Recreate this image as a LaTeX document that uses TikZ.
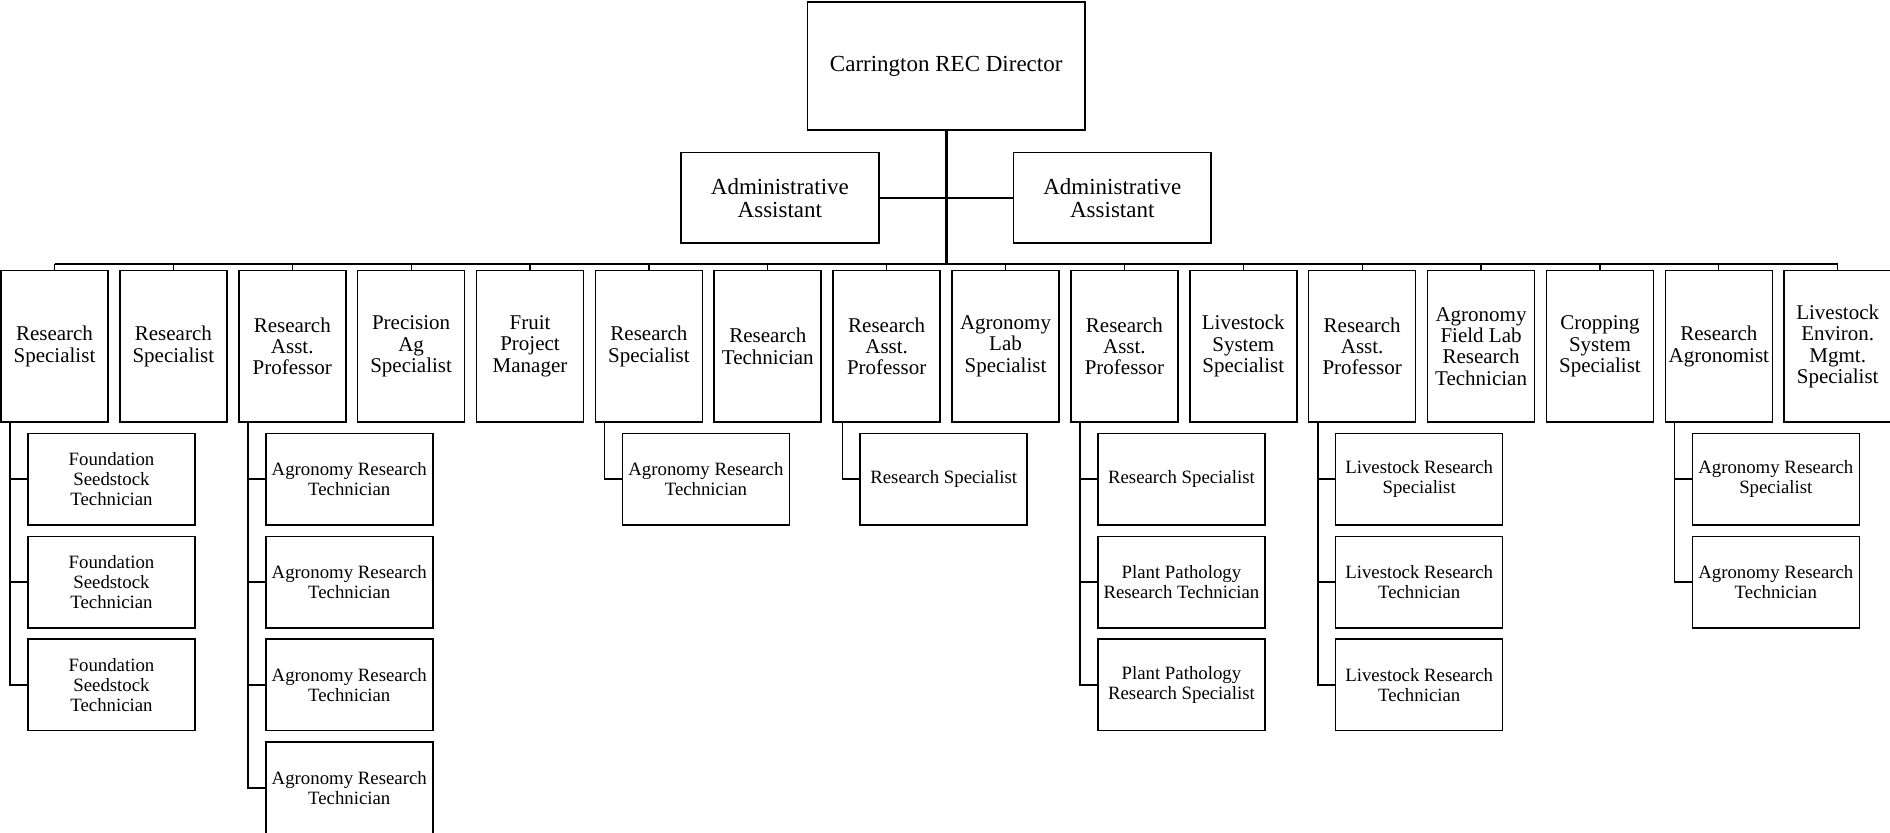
\documentclass[tikz,border=0pt]{standalone}
\usepackage{fontspec}
\setmainfont{Liberation Serif}
\usetikzlibrary{calc}
\tikzset{
  boxbase/.style={draw=black, line width=0.8pt, fill=white, inner sep=0pt, align=center, text=black},
  dirbox/.style={boxbase, minimum width=138.85pt, minimum height=64.15pt, font=\fontsize{11.5}{11.7}\selectfont},
  admbox/.style={boxbase, minimum width=98.8pt, minimum height=45.3pt, font=\fontsize{11.5}{11.7}\selectfont},
  colbox/.style={boxbase, minimum width=53.5pt, minimum height=75.65pt, font=\fontsize{10.5}{10.7}\selectfont},
  kidbox/.style={boxbase, minimum width=83.5pt, minimum height=45.65pt, font=\fontsize{9.4}{10}\selectfont},
  trunk/.style={line width=1.5pt},
  busline/.style={line width=1pt},
  tick/.style={line width=0.6pt},
  conn/.style={line width=0.85pt},
}
\begin{document}
\begin{tikzpicture}[x=0.5pt,y=-0.5pt]
\useasboundingbox (0,0) rectangle (1890,833);
\fill[white] (0,0) rectangle (1890,833);

\node[dirbox] (dir) at (946.2,65.9) {Carrington REC Director};
\node[admbox] (adl) at (779.9,198) {Administrative\\Assistant};
\node[admbox] (adr) at (1112.3,198) {Administrative\\Assistant};
\coordinate (busc) at (946.2,264.5);

\foreach \i/\t in {
  1/{Research\\Specialist},
  2/{Research\\Specialist},
  3/{Research\\Asst.\\Professor},
  4/{Precision\\Ag\\Specialist},
  5/{Fruit\\Project\\Manager},
  6/{Research\\Specialist},
  7/{Research\\Technician},
  8/{Research\\Asst.\\Professor},
  9/{Agronomy\\Lab\\Specialist},
  10/{Research\\Asst.\\Professor},
  11/{Livestock\\System\\Specialist},
  12/{Research\\Asst.\\Professor},
  13/{Agronomy\\Field Lab\\Research\\Technician},
  14/{Cropping\\System\\Specialist},
  15/{Research\\Agronomist},
  16/{Livestock\\Environ.\\Mgmt.\\Specialist}} {
  \pgfmathsetmacro\cx{1+(\i-1)*118.88+53.5}
  \node[colbox] (c\i) at (\cx,346.3) {\t};
  \draw[tick] (c\i.north) -- (c\i.north |- busc);
}

\draw[trunk] (dir.south) -- (busc);
\draw[tick] (adl.east) -- (adr.west);
\draw[busline] (c1.north |- busc) -- (c16.north |- busc);

\foreach \i/\k/\t in {
  1/1/{Foundation\\Seedstock\\Technician},
  1/2/{Foundation\\Seedstock\\Technician},
  1/3/{Foundation\\Seedstock\\Technician},
  3/1/{Agronomy Research\\Technician},
  3/2/{Agronomy Research\\Technician},
  3/3/{Agronomy Research\\Technician},
  3/4/{Agronomy Research\\Technician},
  6/1/{Agronomy Research\\Technician},
  8/1/{Research Specialist},
  10/1/{Research Specialist},
  10/2/{Plant Pathology\\Research Technician},
  10/3/{Plant Pathology\\Research Specialist},
  12/1/{Livestock Research\\Specialist},
  12/2/{Livestock Research\\Technician},
  12/3/{Livestock Research\\Technician},
  15/1/{Agronomy Research\\Specialist},
  15/2/{Agronomy Research\\Technician}} {
  \pgfmathsetmacro\kx{1+(\i-1)*118.88+110.5}
  \pgfmathsetmacro\ky{479.35+(\k-1)*102.8}
  \node[kidbox] (k\i-\k) at (\kx,\ky) {\t};
  \draw[conn] ($(c\i.south west)+(10,0)$) |- (k\i-\k.west);
}
\end{tikzpicture}
\end{document}
